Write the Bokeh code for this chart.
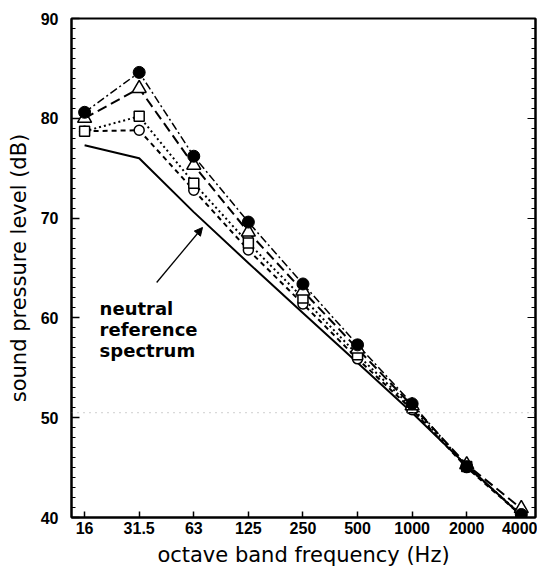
from bokeh.plotting import figure
from bokeh.models import (Range1d, FixedTicker, SingleIntervalTicker, LinearAxis,
                          Arrow, NormalHead, Span, ColumnDataSource)
from bokeh.core.properties import value
from bokeh.embed import file_html
from bokeh.resources import INLINE

# ---- data ----
freq_labels = ["16", "31.5", "63", "125", "250", "500", "1000", "2000", "4000"]
filled_circle = [80.6, 84.6, 76.2, 69.6, 63.4, 57.3, 51.4, 45.1, 40.3]
open_triangle = [80.0, 83.0, 75.3, 68.6, 62.7, 56.9, 51.2, 45.3, 40.9]
open_square = [78.7, 80.2, 73.5, 67.5, 62.0, 56.3, 51.0, 45.1, 40.3]
open_circle = [78.7, 78.8, 72.8, 66.8, 61.4, 55.9, 50.8, 45.0, 40.2]
neutral_ref = [77.3, 76.0, 70.6, 65.5, 60.5, 55.5, 50.5, 45.2, 40.2]
y_ticks = [40, 50, 60, 70, 80, 90]
note_lines = ["neutral", "reference", "spectrum"]

xs = list(range(len(freq_labels)))

p = figure(width=537, height=570, output_backend="svg", toolbar_location=None,
           x_range=Range1d(-0.24, 8.26), y_range=Range1d(40, 90),
           min_border_left=71, min_border_right=2, min_border_top=18,
           min_border_bottom=53)
p.xgrid.visible = False
p.ygrid.visible = False
p.outline_line_color = "black"
p.outline_line_width = 2
p.background_fill_color = "white"
p.border_fill_color = "white"

# x axis
xa = p.xaxis[0]
xa.ticker = FixedTicker(ticks=xs)
xa.major_label_overrides = {i: lab for i, lab in zip(xs, freq_labels)}
xa.major_tick_in = 6
xa.major_tick_out = 0
xa.minor_tick_in = 0
xa.minor_tick_out = 0
xa.axis_line_width = 2
xa.major_tick_line_width = 1.5
xa.major_label_standoff = 4
xa.major_label_text_font = "Liberation Sans"
xa.major_label_text_font_style = "bold"
xa.major_label_text_font_size = "16px"
xa.major_label_text_color = "black"
xa.axis_label = "octave band frequency (Hz)"
xa.axis_label_text_font = "DejaVu Sans"
xa.axis_label_text_font_style = "normal"
xa.axis_label_text_font_size = "21px"
xa.axis_label_text_color = "black"
xa.axis_label_standoff = 6

# y axis
ya = p.yaxis[0]
ya.ticker = FixedTicker(ticks=y_ticks, minor_ticks=list(range(40, 91)))
ya.major_tick_in = 8
ya.major_tick_out = 0
ya.minor_tick_in = 4
ya.minor_tick_out = 0
ya.axis_line_width = 2
ya.major_tick_line_width = 1.5
ya.minor_tick_line_width = 1
ya.major_label_standoff = 13
ya.major_label_text_font = "Liberation Sans"
ya.major_label_text_font_style = "bold"
ya.major_label_text_font_size = "16px"
ya.major_label_text_color = "black"
ya.axis_label = "sound pressure level (dB)"
ya.axis_label_text_font = "DejaVu Sans"
ya.axis_label_text_font_style = "normal"
ya.axis_label_text_font_size = "21px"
ya.axis_label_text_color = "black"
ya.axis_label_standoff = 7

# right axis: ticks only, no labels
ra = LinearAxis(ticker=FixedTicker(ticks=y_ticks, minor_ticks=list(range(40, 91))))
ra.major_tick_in = 8
ra.major_tick_out = 0
ra.minor_tick_in = 4
ra.minor_tick_out = 0
ra.axis_line_width = 2
ra.major_label_overrides = {t: "" for t in y_ticks}
ra.major_label_standoff = 0
p.add_layout(ra, "right")

# faint dotted scan line
p.add_layout(Span(location=50.5, dimension="width", line_color="#888888",
                  line_dash="1 5", line_width=1, line_alpha=0.8))

src = ColumnDataSource(dict(x=xs, fc=filled_circle, tr=open_triangle,
                            sq=open_square, oc=open_circle, nr=neutral_ref))

# lines
p.line("x", "nr", source=src, line_color="black", line_width=2)
p.line("x", "oc", source=src, line_color="black", line_width=2, line_dash="5 4")
p.line("x", "sq", source=src, line_color="black", line_width=2, line_dash="2 3")
p.line("x", "tr", source=src, line_color="black", line_width=2, line_dash="10 5")
p.line("x", "fc", source=src, line_color="black", line_width=1.5, line_dash="8 3 2 3")

# markers
p.scatter("x", "oc", source=src, marker="circle", size=10, fill_color="white",
          line_color="black", line_width=1.5)
p.scatter("x", "sq", source=src, marker="square", size=10, fill_color="white",
          line_color="black", line_width=1.5)
p.scatter("x", "tr", source=src, marker="triangle", size=14, fill_color="white",
          line_color="black", line_width=1.5)
p.scatter("x", "fc", source=src, marker="circle", size=12, fill_color="black",
          line_color="black")

# annotation
p.text(x=[0.275] * 3, y=[60.95, 58.85, 56.75], text=note_lines,
       text_font=value("DejaVu Sans"), text_font_style="bold",
       text_font_size="18px", text_color="black", text_align="left",
       text_baseline="alphabetic")
p.add_layout(Arrow(end=NormalHead(size=8, fill_color="black", line_color="black"),
                   x_start=1.32, y_start=63.55, x_end=2.16, y_end=69.06,
                   line_color="black", line_width=1.3))

open("out.html", "w").write(file_html(p, INLINE))
